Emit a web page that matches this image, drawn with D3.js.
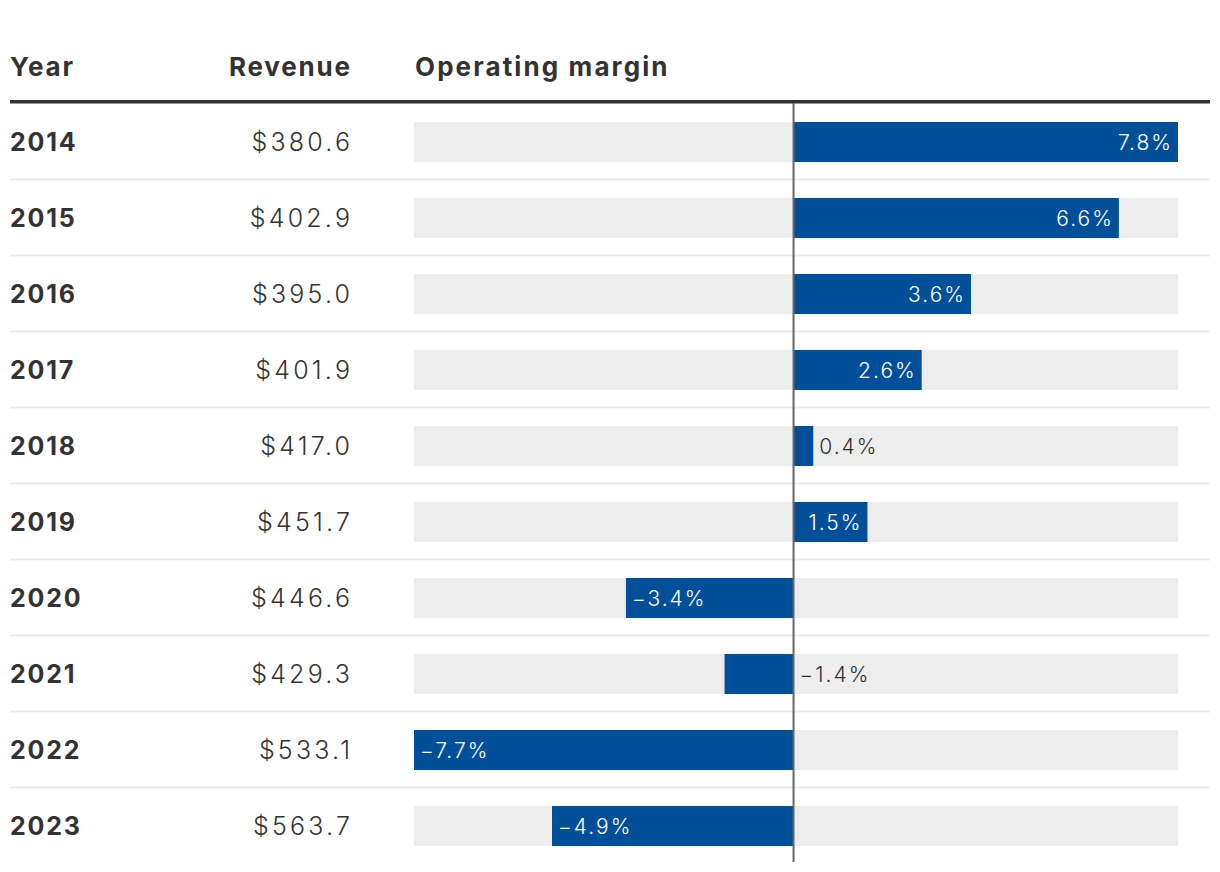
<!DOCTYPE html>
<html><head><meta charset="utf-8">
<script src="https://cdn.jsdelivr.net/npm/d3@7"></script>
<style>
body{margin:0;background:#fff;}
svg text{font-family:Inter,"Liberation Sans",sans-serif;}
</style></head>
<body><svg id="c" width="1220" height="872"></svg>
<script>
const years = ["2014","2015","2016","2017","2018","2019","2020","2021","2022","2023"];
const revenue = ["$380.6","$402.9","$395.0","$401.9","$417.0","$451.7","$446.6","$429.3","$533.1","$563.7"];
const margin = [7.8, 6.6, 3.6, 2.6, 0.4, 1.5, -3.4, -1.4, -7.7, -4.9];
const headers = ["Year","Revenue","Operating margin"];

const svg = d3.select("#c");
const x = d3.scaleLinear().domain([d3.min(margin), d3.max(margin)]).range([414, 1178]);
const y = d3.scaleBand().domain(years).range([104, 864]);
const barH = 40, barOff = 18;
const fmt = v => (v < 0 ? "\u2212" + Math.abs(v).toFixed(1) : v.toFixed(1)) + "%";
const lsB = 1.8, lsH = 2.1, lsR = 3.2, lsL = 2;

// headers
svg.append("text").attr("x",10).attr("y",76).text(headers[0])
  .attr("font-size",26).attr("font-weight",700).attr("fill","#333").attr("letter-spacing",lsB);
svg.append("text").attr("x",350+lsB).attr("y",76).attr("text-anchor","end").text(headers[1])
  .attr("font-size",26).attr("font-weight",700).attr("fill","#333").attr("letter-spacing",lsB);
svg.append("text").attr("x",415).attr("y",76).text(headers[2])
  .attr("font-size",26).attr("font-weight",700).attr("fill","#333").attr("letter-spacing",lsH);
svg.append("rect").attr("x",10).attr("y",100).attr("width",1200).attr("height",3.5).attr("fill","#333");

const rows = svg.selectAll("g.row").data(years).join("g").attr("class","row")
  .attr("transform", d => `translate(0,${y(d)})`);

rows.append("rect").attr("x", x.range()[0]).attr("y", barOff)
  .attr("width", x.range()[1]-x.range()[0]).attr("height", barH).attr("fill","#ededed");

rows.append("rect")
  .attr("x", (d,i) => Math.min(x(0), x(margin[i])))
  .attr("y", barOff)
  .attr("width", (d,i) => Math.abs(x(margin[i]) - x(0)))
  .attr("height", barH).attr("fill","#004f98");

rows.append("text").attr("x",10).attr("y",barOff+barH/2).attr("dy","0.36em")
  .attr("font-size",25).attr("font-weight",700).attr("fill","#333").attr("letter-spacing",lsB).text(d=>d);
rows.append("text").attr("x",350+lsR).attr("y",barOff+barH/2).attr("dy","0.36em")
  .attr("text-anchor","end").attr("font-size",25).attr("font-weight",300).attr("fill","#333")
  .attr("letter-spacing",lsR).text((d,i)=>revenue[i]);

// zero line
svg.append("line").attr("x1",x(0)).attr("x2",x(0)).attr("y1",103).attr("y2",862)
  .attr("stroke","#666").attr("stroke-width",2);

// separators
rows.filter((d,i)=>i<years.length-1).append("rect").attr("x",10).attr("y",y.bandwidth()-1.5)
  .attr("width",1200).attr("height",2).attr("fill","#ebebeb");

// labels
rows.append("text")
  .attr("font-size",21).attr("font-weight",300).attr("letter-spacing",lsL)
  .attr("y",barOff+barH/2).attr("dy","0.36em")
  .each(function(d,i){
    const v = margin[i];
    const w = Math.abs(x(v)-x(0));
    const t = d3.select(this).text(fmt(v));
    if (w > 70) {
      t.attr("fill","#fff");
      if (v >= 0) t.attr("x", x(v)-7+lsL).attr("text-anchor","end");
      else t.attr("x", x(v)+6).attr("text-anchor","start");
    } else {
      t.attr("fill","#333").attr("text-anchor","start");
      t.attr("x", (v >= 0 ? x(v) : x(0)) + 6);
    }
  });
</script></body></html>
